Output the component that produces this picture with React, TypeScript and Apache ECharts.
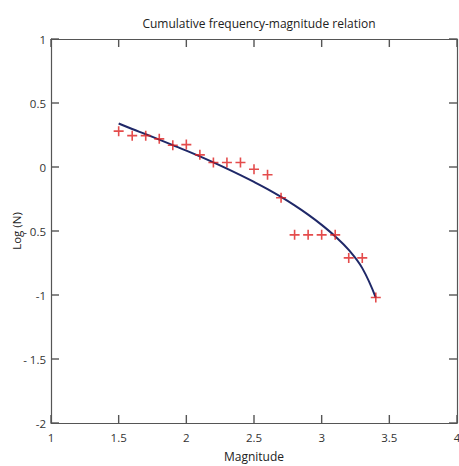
import React, { useEffect, useRef } from "react";
import * as echarts from "echarts";

const magnitudes = [1.5, 1.6, 1.7, 1.8, 1.9, 2.0, 2.1, 2.2, 2.3, 2.4, 2.5, 2.6, 2.7, 2.8, 2.9, 3.0, 3.1, 3.2, 3.3, 3.4];
const observedLogN = [0.28, 0.245, 0.245, 0.22, 0.17, 0.175, 0.095, 0.035, 0.035, 0.035, -0.017, -0.06, -0.24, -0.53, -0.53, -0.53, -0.53, -0.71, -0.71, -1.02];
const fittedLogN = [0.34, 0.297, 0.256, 0.214, 0.171, 0.128, 0.083, 0.036, -0.013, -0.064, -0.117, -0.173, -0.234, -0.30, -0.372, -0.452, -0.542, -0.648, -0.79, -1.02];
const xTicks = [1, 1.5, 2, 2.5, 3, 3.5, 4];
const yTicks = [-2, -1.5, -1, -0.5, 0, 0.5, 1];
const yTickLabels: Record<string, string> = { "1": "1", "0.5": "0.5", "0": "0", "-0.5": "- 0.5", "-1": "-1", "-1.5": "- 1.5", "-2": "-2" };

const FONT = "'Open Sans', 'Noto Sans', sans-serif";
const AXIS_COLOR = "#555";
const TICK_LEN = 8;

const mkLine = () => ({ show: true, onZero: false, lineStyle: { color: AXIS_COLOR, width: 1.2 } });

export default function App() {
  const ref = useRef<HTMLDivElement>(null);
  useEffect(() => {
    if (!ref.current) return;
    const chart = echarts.init(ref.current, undefined, { renderer: "svg" });
    const plus = "path://M4.2,0 L5.8,0 L5.8,4.2 L10,4.2 L10,5.8 L5.8,5.8 L5.8,10 L4.2,10 L4.2,5.8 L0,5.8 L0,4.2 L4.2,4.2 Z";
    chart.setOption({
      animation: false,
      backgroundColor: "#fff",
      title: {
        text: "Cumulative frequency-magnitude relation",
        left: 254,
        top: 12,
        textAlign: "center",
        textStyle: { fontFamily: FONT, fontSize: 12, fontWeight: "normal", color: "#222" },
      },
      grid: {
        left: 51, right: 2, top: 39, bottom: 43,
        containLabel: false, outerBoundsMode: "none",
        show: false,
      },
      xAxis: [
        {
          type: "value",
          min: 1,
          max: 4,
          interval: 0.5,
          position: "bottom",
          name: "Magnitude",
          nameLocation: "middle",
          nameGap: 27,
          nameMoveOverlap: false,
          nameTextStyle: { fontFamily: FONT, fontSize: 12, color: "#222" },
          axisLine: mkLine(),
          axisTick: { show: false },
          axisLabel: { fontFamily: FONT, fontSize: 11.5, color: "#333", margin: 8, formatter: (v: number) => String(v) },
          splitLine: { show: false },
        },
        {
          type: "value",
          min: 1,
          max: 4,
          interval: 0.5,
          position: "top",
          axisLine: mkLine(),
          axisTick: { show: false },
          axisLabel: { show: false },
          splitLine: { show: false },
        },
      ],
      yAxis: [
        {
          type: "value",
          min: -2,
          max: 1,
          interval: 0.5,
          position: "left",
          name: "Log (N)",
          nameLocation: "middle",
          nameGap: 29,
          nameMoveOverlap: false,
          nameRotate: 90,
          nameTextStyle: { fontFamily: FONT, fontSize: 11.5, color: "#222" },
          axisLine: mkLine(),
          axisTick: { show: false },
          axisLabel: {
            fontFamily: FONT,
            fontSize: 11.5,
            color: "#333",
            margin: 5,
            formatter: (v: number) => yTickLabels[String(v)] ?? String(v),
          },
          splitLine: { show: false },
        },
        {
          type: "value",
          min: -2,
          max: 1,
          interval: 0.5,
          position: "right",
          axisLine: mkLine(),
          axisTick: { show: false },
          axisLabel: { show: false },
          splitLine: { show: false },
        },
      ],
      series: [
        {
          type: "line",
          xAxisIndex: 1,
          yAxisIndex: 1,
          data: magnitudes.map((m, i) => [m, fittedLogN[i]]),
          smooth: 0.4,
          showSymbol: false,
          lineStyle: { color: "#1f2868", width: 2 },
          z: 2,
        },
        {
          type: "scatter",
          xAxisIndex: 0,
          yAxisIndex: 0,
          data: magnitudes.map((m, i) => [m, observedLogN[i]]),
          symbol: plus,
          symbolSize: 10,
          itemStyle: { color: "#dd1f1f" },
          z: 3,
        },
      ],
    });

    // Tick marks on all four sides, positioned through the axes' own scales.
    const yMinPx = chart.convertToPixel({ yAxisIndex: 0 }, -2) as number;
    const yMaxPx = chart.convertToPixel({ yAxisIndex: 0 }, 1) as number;
    const xMinPx = chart.convertToPixel({ xAxisIndex: 0 }, 1) as number;
    const xMaxPx = chart.convertToPixel({ xAxisIndex: 0 }, 4) as number;
    const tickStyle = { stroke: "#555", lineWidth: 1.4 };
    const ticks: any[] = [];
    xTicks.forEach((v) => {
      const px = chart.convertToPixel({ xAxisIndex: 0 }, v) as number;
      ticks.push({ type: "line", silent: true, z: 10, shape: { x1: px, y1: yMinPx, x2: px, y2: yMinPx - TICK_LEN }, style: tickStyle });
      ticks.push({ type: "line", silent: true, z: 10, shape: { x1: px, y1: yMaxPx, x2: px, y2: yMaxPx + TICK_LEN }, style: tickStyle });
    });
    yTicks.forEach((v) => {
      const py = chart.convertToPixel({ yAxisIndex: 0 }, v) as number;
      ticks.push({ type: "line", silent: true, z: 10, shape: { x1: xMinPx, y1: py, x2: xMinPx + TICK_LEN, y2: py }, style: tickStyle });
      ticks.push({ type: "line", silent: true, z: 10, shape: { x1: xMaxPx, y1: py, x2: xMaxPx - TICK_LEN, y2: py }, style: tickStyle });
    });
    chart.setOption({ graphic: ticks });

    return () => chart.dispose();
  }, []);
  return <div ref={ref} style={{ width: 459, height: 466, position: "absolute", left: 0, top: 0 }} />;
}
